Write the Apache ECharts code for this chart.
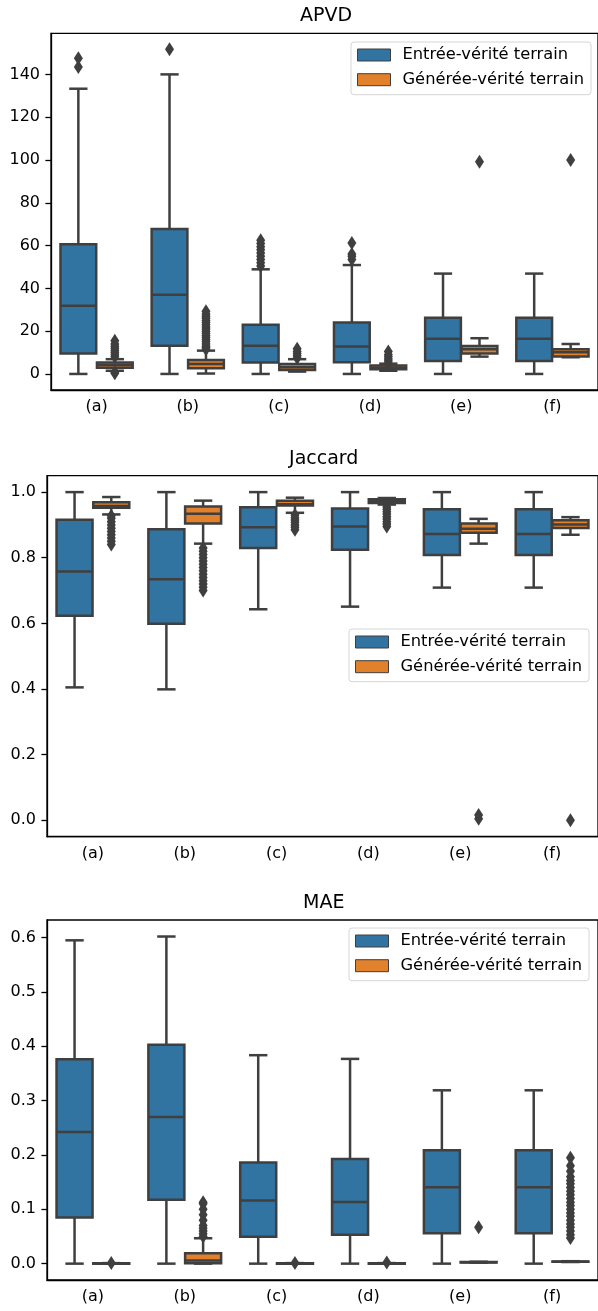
<!DOCTYPE html>
<html>
<head>
<meta charset="utf-8">
<script src="https://cdn.jsdelivr.net/npm/echarts@6/dist/echarts.min.js"></script>
<style>
  html, body { margin: 0; padding: 0; background: #fff; }
  #chart { width: 598px; height: 1311px; }
</style>
</head>
<body>
<div id="chart"></div>
<script>
const categories = ['(a)', '(b)', '(c)', '(d)', '(e)', '(f)'];
const seriesNames = ['Entrée-vérité terrain', 'Générée-vérité terrain'];

// each box: [low whisker, Q1, median, Q3, high whisker]
const apvdEntree = [[0, 9.5, 31.9, 60.6, 133.3], [0, 13.2, 37.0, 67.7, 140], [0, 5.3, 13.2, 23.0, 48.9],
  [0, 5.5, 12.8, 24.1, 50.9], [0, 6.1, 16.5, 26.3, 46.9], [0, 6.1, 16.5, 26.3, 46.9]];
const apvdGeneree = [[1.5, 2.9, 4.2, 5.3, 6.9], [0.2, 2.7, 4.7, 6.5, 10.9], [1.1, 1.9, 3.1, 4.7, 6.9],
  [1.5, 2.2, 2.9, 4.0, 4.8], [8.1, 9.5, 11.5, 13.1, 16.7], [7.8, 8.1, 10.1, 11.5, 14.0]];
const apvdEntreeOut = [[143.5, 147.5], [151.7], [50.5, 52, 53.5, 55, 56.5, 58, 59.5, 61, 62.5],
  [53.5, 55, 56, 61.2], [], []];
const apvdGenereeOut = [[0.3, 0.8, 8, 9, 10, 11, 12, 13, 14, 15.5],
  [11.5, 12.3, 13, 14, 15, 16, 17, 18, 19, 20, 21, 22, 23, 24, 25, 26, 27, 28, 29.3],
  [7.5, 8.5, 9.5, 10.5, 11.8], [5, 6, 7, 8, 9, 10.5], [99.2], [100]];

const jacEntree = [[0.405, 0.6235, 0.758, 0.9155, 1.0], [0.399, 0.599, 0.7345, 0.887, 1.0],
  [0.643, 0.830, 0.893, 0.954, 1.0], [0.651, 0.824, 0.895, 0.950, 1.0],
  [0.709, 0.808, 0.872, 0.948, 1.0], [0.709, 0.808, 0.872, 0.948, 1.0]];
const jacGeneree = [[0.932, 0.952, 0.958, 0.969, 0.985], [0.843, 0.904, 0.934, 0.956, 0.974],
  [0.937, 0.959, 0.963, 0.974, 0.983], [0.962, 0.967, 0.974, 0.978, 0.982],
  [0.843, 0.876, 0.888, 0.904, 0.9185], [0.870, 0.891, 0.901, 0.9145, 0.9237]];
const jacEntreeOut = [[], [], [], [], [], []];
const jacGenereeOut = [[0.84, 0.85, 0.86, 0.87, 0.88, 0.89, 0.90, 0.91, 0.92, 0.928],
  [0.70, 0.71, 0.72, 0.73, 0.74, 0.75, 0.76, 0.77, 0.78, 0.79, 0.80, 0.81, 0.82, 0.83],
  [0.885, 0.893, 0.90, 0.908, 0.915, 0.922, 0.93],
  [0.895, 0.903, 0.91, 0.918, 0.925, 0.933, 0.94, 0.948, 0.955],
  [0.005, 0.016], [0.0]];

const maeEntree = [[0, 0.0847, 0.2424, 0.376, 0.595], [0, 0.1178, 0.270, 0.403, 0.602],
  [0, 0.0497, 0.116, 0.186, 0.3836], [0, 0.0534, 0.1136, 0.1927, 0.3768],
  [0, 0.056, 0.1406, 0.2087, 0.319], [0, 0.056, 0.1406, 0.2087, 0.319]];
const maeGeneree = [[0, 0, 0, 0.0005, 0.001], [0, 0.0005, 0.006, 0.019, 0.0467], [0, 0, 0, 0.0005, 0.001],
  [0, 0, 0, 0.0005, 0.001], [0.002, 0.0022, 0.0025, 0.003, 0.0035], [0.003, 0.0033, 0.0036, 0.004, 0.0045]];
const maeEntreeOut = [[], [], [], [], [], []];
const maeGenereeOut = [[0.001], [0.05, 0.055, 0.06, 0.065, 0.07, 0.08, 0.09, 0.1, 0.11, 0.113],
  [0.001], [0.002], [0.067],
  [0.047, 0.053, 0.06, 0.067, 0.073, 0.08, 0.087, 0.093, 0.1, 0.107, 0.113, 0.12, 0.127,
   0.133, 0.14, 0.147, 0.153, 0.16, 0.17, 0.18, 0.195]];

const apvdTicks = [0, 20, 40, 60, 80, 100, 120, 140];
const jacTicks = [0, 0.2, 0.4, 0.6, 0.8, 1.0];
const maeTicks = [0, 0.1, 0.2, 0.3, 0.4, 0.5, 0.6];

const BLUE = '#3274a1';
const ORANGE = '#e1812c';
const EDGE = '#3f3f3f';
const LW = 2.5;
const FONT = 'DejaVu Sans';

function boxRenderer(offset, fill) {
  return function (params, api) {
    const band = api.size([1, 0])[0];
    const idx = api.value(0);
    const x = api.coord([idx, 0])[0] + offset * band;
    const half = band * 0.196;
    const cap = band * 0.1;
    const y = [1, 2, 3, 4, 5].map(d => api.coord([idx, api.value(d)])[1]);
    const line = { stroke: EDGE, lineWidth: LW };
    return {
      type: 'group',
      children: [
        { type: 'line', shape: { x1: x, y1: y[0], x2: x, y2: y[1] }, style: line },
        { type: 'line', shape: { x1: x, y1: y[3], x2: x, y2: y[4] }, style: line },
        { type: 'line', shape: { x1: x - cap, y1: y[0], x2: x + cap, y2: y[0] }, style: line },
        { type: 'line', shape: { x1: x - cap, y1: y[4], x2: x + cap, y2: y[4] }, style: line },
        { type: 'rect', shape: { x: x - half, y: y[3], width: 2 * half, height: y[1] - y[3] },
          style: { fill: fill, stroke: EDGE, lineWidth: LW } },
        { type: 'line', shape: { x1: x - half, y1: y[2], x2: x + half, y2: y[2] }, style: line }
      ]
    };
  };
}

function outlierRenderer(offset) {
  return function (params, api) {
    const band = api.size([1, 0])[0];
    const p = api.coord([api.value(0), api.value(1)]);
    const x = p[0] + offset * band, y = p[1];
    return {
      type: 'polygon',
      shape: { points: [[x, y - 7], [x + 4.5, y], [x, y + 7], [x - 4.5, y]] },
      style: { fill: EDGE }
    };
  };
}

function flatOut(list) {
  const out = [];
  list.forEach((vals, i) => vals.forEach(v => out.push([i, v])));
  return out;
}

const panels = [
  { title: 'APVD', entree: apvdEntree, generee: apvdGeneree, entreeOut: apvdEntreeOut, genereeOut: apvdGenereeOut,
    ticks: apvdTicks, min: -7.5, max: 159.2, fmt: v => String(v),
    grid: { left: 51, top: 33.3, width: 550, height: 356.7 }, titleTop: 7, legend: { left: 351, top: 42 } },
  { title: 'Jaccard', entree: jacEntree, generee: jacGeneree, entreeOut: jacEntreeOut, genereeOut: jacGenereeOut,
    ticks: jacTicks, min: -0.05, max: 1.05, fmt: v => v.toFixed(1),
    grid: { left: 47, top: 475.7, width: 553.5, height: 361 }, titleTop: 449.5, legend: { left: 349, top: 629 } },
  { title: 'MAE', entree: maeEntree, generee: maeGeneree, entreeOut: maeEntreeOut, genereeOut: maeGenereeOut,
    ticks: maeTicks, min: -0.0301, max: 0.6324, fmt: v => v.toFixed(1),
    grid: { left: 47, top: 920, width: 553.5, height: 360 }, titleTop: 893.5, legend: { left: 349, top: 928 } }
];

const option = {
  backgroundColor: '#fff',
  animation: false,
  textStyle: { fontFamily: FONT },
  title: [], legend: [], grid: [], xAxis: [], yAxis: [], series: []
};

panels.forEach((p, g) => {
  option.title.push({
    text: p.title, left: p.grid.left + p.grid.width / 2, top: p.titleTop, textAlign: 'center', padding: 0,
    textStyle: { fontSize: 19, fontWeight: 'normal', color: '#000', fontFamily: FONT }
  });
  option.legend.push({
    orient: 'vertical', left: p.legend.left, top: p.legend.top,
    padding: [5, 7, 7, 6], itemWidth: 33, itemHeight: 12, itemGap: 8.7,
    backgroundColor: '#fff', borderColor: '#d6d6d6', borderWidth: 1, borderRadius: 3,
    textStyle: { fontSize: 16.3, color: '#000', fontFamily: FONT, padding: [0, 0, 0, 7] },
    data: [
      { name: seriesNames[0], icon: 'rect', itemStyle: { color: BLUE, borderColor: EDGE, borderWidth: 1 } },
      { name: seriesNames[1], icon: 'rect', itemStyle: { color: ORANGE, borderColor: EDGE, borderWidth: 1 } }
    ]
  });
  option.grid.push(Object.assign({ show: true, borderColor: '#000', borderWidth: 1.3 }, p.grid));
  option.xAxis.push({
    type: 'category', gridIndex: g, data: categories,
    axisLine: { onZero: false, lineStyle: { color: '#000', width: 1.3 } },
    axisTick: { alignWithLabel: true, length: 5.6, lineStyle: { color: '#000', width: 1.3 } },
    axisLabel: { fontSize: 16, color: '#000', margin: 9, fontFamily: FONT },
    splitLine: { show: false }
  });
  option.yAxis.push({
    type: 'value', gridIndex: g, min: p.min, max: p.max,
    axisLine: { show: true, onZero: false, lineStyle: { color: '#000', width: 1.3 } },
    axisTick: { show: true, length: 5.6, customValues: p.ticks, lineStyle: { color: '#000', width: 1.3 } },
    axisLabel: { fontSize: 16, color: '#000', margin: 11, fontFamily: FONT, customValues: p.ticks, formatter: p.fmt },
    splitLine: { show: false }
  });
  [[p.entree, p.entreeOut, -0.2, BLUE], [p.generee, p.genereeOut, 0.2, ORANGE]].forEach((h, k) => {
    option.series.push({
      type: 'custom', name: seriesNames[k], xAxisIndex: g, yAxisIndex: g,
      itemStyle: { color: h[3] },
      renderItem: boxRenderer(h[2], h[3]),
      encode: { x: 0, y: [1, 2, 3, 4, 5] },
      data: h[0].map((b, i) => [i].concat(b))
    });
    option.series.push({
      type: 'custom', name: seriesNames[k], xAxisIndex: g, yAxisIndex: g,
      itemStyle: { color: h[3] },
      renderItem: outlierRenderer(h[2]),
      encode: { x: 0, y: 1 },
      data: flatOut(h[1]),
      z: 3
    });
  });
});

const chart = echarts.init(document.getElementById('chart'), null, { renderer: 'canvas' });
chart.setOption(option);
</script>
</body>
</html>
